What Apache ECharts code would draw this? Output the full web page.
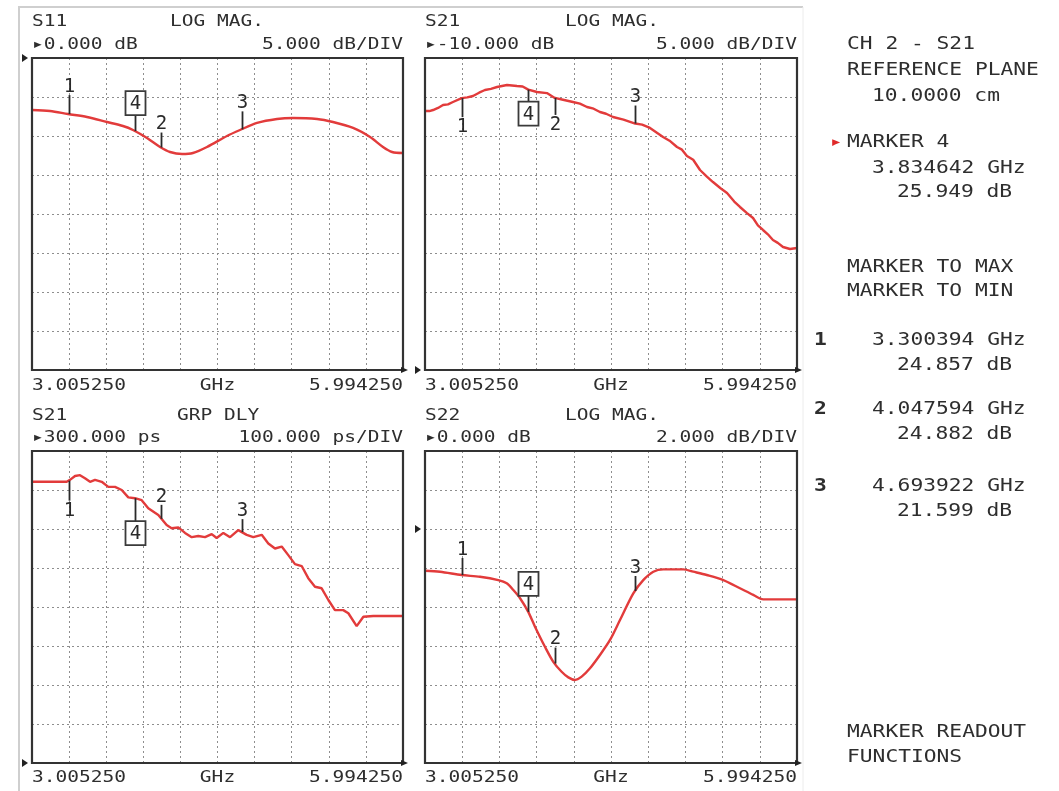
<!DOCTYPE html>
<html><head><meta charset="utf-8">
<script src="https://cdn.jsdelivr.net/npm/echarts@6/dist/echarts.min.js"></script>
<style>html,body{margin:0;padding:0;background:#fff}#c{width:1059px;height:791px}</style>
</head><body><div id="c"></div>
<script>
// ---------- DATA ----------
const freqStart = 3.00525, freqStop = 5.99425;
const freqStartLabel = '3.005250', freqStopLabel = '5.994250', freqUnit = 'GHz';

const s11Freq = [3.00525,3.150,3.295,3.448,3.610,3.738,3.819,3.932,4.037,4.117,4.214,4.302,4.415,4.576,4.681,4.818,4.979,5.108,5.302,5.430,5.592,5.729,5.833,5.906,5.99425];
const s11Val  = [-6.67,-6.79,-7.18,-7.56,-8.21,-8.72,-9.23,-10.26,-11.41,-12.05,-12.31,-12.18,-11.41,-10.0,-9.23,-8.33,-7.82,-7.69,-7.82,-8.21,-8.97,-10.13,-11.41,-12.05,-12.18];

const s21Freq = [3.00525,3.040,3.070,3.110,3.150,3.190,3.230,3.300,3.345,3.391,3.440,3.487,3.535,3.584,3.664,3.744,3.790,3.835,3.905,3.985,4.048,4.114,4.194,4.250,4.307,4.360,4.411,4.460,4.516,4.600,4.694,4.750,4.813,4.918,4.970,5.030,5.070,5.110,5.160,5.215,5.270,5.319,5.380,5.432,5.490,5.536,5.590,5.641,5.680,5.721,5.760,5.801,5.840,5.882,5.938,5.99425];
const s21Val  = [23.21,23.20,23.33,23.60,23.97,24.05,24.36,24.86,24.95,25.13,25.55,25.90,26.05,26.28,26.54,26.41,26.35,25.95,25.64,25.50,24.88,24.65,24.36,24.15,23.72,23.50,23.08,22.85,22.44,22.10,21.60,21.45,21.03,19.87,19.40,18.59,18.25,17.44,16.95,15.64,14.80,14.10,13.30,12.69,11.60,10.90,10.15,9.49,8.55,7.95,7.40,6.67,6.30,5.77,5.51,5.64];

const grpFreq = [3.00525,3.285,3.311,3.352,3.392,3.432,3.473,3.513,3.567,3.620,3.674,3.728,3.781,3.835,3.889,3.942,4.023,4.090,4.130,4.184,4.238,4.292,4.345,4.399,4.453,4.493,4.547,4.601,4.667,4.735,4.788,4.856,4.909,4.963,5.017,5.070,5.124,5.178,5.231,5.285,5.339,5.393,5.446,5.513,5.554,5.621,5.675,5.755,5.99425];
const grpVal  = [1021,1021,1026,1036,1038,1030,1021,1026,1021,1008,1008,1000,981,979,974,953,936,910,902,904,890,879,882,879,887,877,890,879,897,885,879,885,863,850,855,833,810,805,774,752,748,718,692,692,684,651,675,677,677];

const s22Freq = [3.00525,3.126,3.300,3.447,3.594,3.662,3.715,3.769,3.835,3.889,3.969,4.036,4.103,4.157,4.210,4.264,4.331,4.411,4.492,4.572,4.679,4.759,4.840,4.920,5.081,5.161,5.269,5.402,5.536,5.643,5.723,5.99425];
const s22Val  = [-2.14,-2.19,-2.36,-2.45,-2.62,-2.78,-3.13,-3.55,-4.25,-5.01,-6.04,-6.81,-7.32,-7.61,-7.74,-7.57,-7.14,-6.46,-5.69,-4.67,-3.30,-2.62,-2.19,-2.07,-2.07,-2.19,-2.36,-2.62,-3.04,-3.38,-3.61,-3.61];

const markerNames = ['1','4','2','3'];
const markerFreq  = [3.300394, 3.834642, 4.047594, 4.693922];
const s11MarkerVal = [-7.19, -9.37, -11.48, -9.15];
const s21MarkerVal = [24.857, 25.949, 24.882, 21.599];
const grpMarkerVal = [1024, 979, 926, 892];
const s22MarkerVal = [-2.36, -4.25, -6.90, -3.18];

const readoutNames = ['1','2','3'];
const readoutFreq  = [3.300394, 4.047594, 4.693922];
const readoutVal   = ['24.857','24.882','21.599'];
const activeName = '4', activeFreq = 3.834642, activeVal = '25.949';

const headers = [
  ['S11','LOG MAG.','\u25B80.000 dB','5.000 dB/DIV'],
  ['S21','LOG MAG.','\u25B8-10.000 dB','5.000 dB/DIV'],
  ['S21','GRP DLY','\u25B8300.000 ps','100.000 ps/DIV'],
  ['S22','LOG MAG.','\u25B80.000 dB','2.000 dB/DIV']
];

// ---------- LAYOUT / STYLE ----------
const H = 312;
const panels = [
  {left:32, top:58, width:371, freq:s11Freq, val:s11Val, ymin:-40, ymax:0, yint:5, mval:s11MarkerVal, smooth:0.3,
   mk:[{d:-1,l:19},{d:-1,l:16},{d:-1,l:15},{d:-1,l:18}], ref:'top', titleY:22, subY:45, botY:386, titleX2:170},
  {left:425, top:58, width:372, freq:s21Freq, val:s21Val, ymin:-10, ymax:30, yint:5, mval:s21MarkerVal, smooth:false,
   mk:[{d:1,l:19},{d:1,l:12},{d:1,l:17},{d:-1,l:18}], ref:'bottom', titleY:22, subY:45, botY:386, titleX2:565},
  {left:32, top:451, width:371, freq:grpFreq, val:grpVal, ymin:300, ymax:1100, yint:100, mval:grpMarkerVal, smooth:false,
   mk:[{d:1,l:20},{d:1,l:23},{d:-1,l:14},{d:-1,l:13}], ref:'bottom', titleY:416, subY:438, botY:778, titleX2:177},
  {left:425, top:451, width:372, freq:s22Freq, val:s22Val, ymin:-12, ymax:4, yint:2, mval:s22MarkerVal, smooth:0.3,
   mk:[{d:-1,l:17},{d:-1,l:16},{d:-1,l:16},{d:-1,l:15}], ref:'mid', titleY:416, subY:438, botY:778, titleX2:565}
];

const TXT = '#2e2e2e';
const MONO = '"DejaVu Sans Mono", "Liberation Mono", monospace';
const gridLine = {show:true, lineStyle:{color:'#8e8e8e', width:1, type:[2,3]}};

function txt(text, x, y, align, o) {
  o = o || {};
  return {type:'text', x:x, y:y, scaleX:o.sx || 1.22, z:100,
    style:{text:text, x:0, y:0, align:align, verticalAlign:'middle', textAlign:align, textVerticalAlign:'middle',
      font:o.font || ('16px ' + MONO), fill:o.fill || TXT}};
}

function markerRender(p) {
  return function(params, api) {
    const pt = api.coord([api.value(0), api.value(1)]);
    const m = p.mk[params.dataIndex];
    const name = markerNames[params.dataIndex];
    const x = Math.round(pt[0]) + 0.5;
    const y2 = pt[1] + m.d * m.l;
    const boxed = name === activeName;
    const ty = boxed ? y2 + m.d * 12 : y2 + m.d * 9;
    const ch = [{type:'line', shape:{x1:x, y1:pt[1], x2:x, y2:y2}, style:{stroke:'#2a2a2a', lineWidth:1.8}}];
    if (boxed) ch.push({type:'rect', shape:{x:x-10, y:ty-12, width:20, height:24}, style:{fill:'#fff', stroke:'#3a3a3a', lineWidth:1.8}});
    ch.push({type:'text', style:{text:name, x:x, y:ty+1, align:'center', verticalAlign:'middle', textAlign:'center', textVerticalAlign:'middle', font:'19px ' + MONO, fill:'#2a2a2a'}});
    return {type:'group', children:ch};
  };
}

const grid = [], xAxis = [], yAxis = [], series = [], graphic = [];
panels.forEach((p, i) => {
  grid.push({left:p.left, top:p.top, width:p.width, height:H, show:true, backgroundColor:'#fff', borderWidth:0});
  xAxis.push({gridIndex:i, type:'value', min:0, max:10, interval:1, axisLine:{show:false}, axisTick:{show:false}, axisLabel:{show:false}, splitLine:gridLine});
  xAxis.push({gridIndex:i, type:'value', min:freqStart, max:freqStop, show:false, splitLine:{show:false}});
  yAxis.push({gridIndex:i, type:'value', min:p.ymin, max:p.ymax, interval:p.yint, axisLine:{show:false}, axisTick:{show:false}, axisLabel:{show:false}, splitLine:gridLine});
  series.push({type:'line', xAxisIndex:2*i+1, yAxisIndex:i, data:p.freq.map((f,k)=>[f, p.val[k]]),
    showSymbol:false, smooth:p.smooth, lineStyle:{color:'#e23b3b', width:2.4}, z:3, silent:true, animation:false});
  series.push({type:'custom', xAxisIndex:2*i+1, yAxisIndex:i, data:markerFreq.map((f,k)=>[f, p.mval[k]]),
    renderItem:markerRender(p), clip:false, z:5, silent:true, animation:false});

  graphic.push({type:'rect', z:10, shape:{x:p.left, y:p.top, width:p.width, height:H}, style:{fill:'none', stroke:'#333', lineWidth:2.2}});
  let ry = p.ref === 'top' ? p.top : (p.ref === 'bottom' ? p.top + H : p.top + H/4);
  graphic.push({type:'polygon', z:10, shape:{points:[[p.left-10, ry-4],[p.left-4, ry],[p.left-10, ry+4]]}, style:{fill:'#222'}});
  graphic.push({type:'polygon', z:10, shape:{points:[[p.left+p.width-2, p.top+H-3],[p.left+p.width+5, p.top+H],[p.left+p.width-2, p.top+H+3]]}, style:{fill:'#222'}});
  const h = headers[i];
  const r = p.left + p.width;
  graphic.push(txt(h[0], p.left, p.titleY, 'left'));
  graphic.push(txt(h[1], p.titleX2, p.titleY, 'left'));
  graphic.push(txt(h[2], p.left, p.subY, 'left'));
  graphic.push(txt(h[3], r, p.subY, 'right'));
  graphic.push(txt(freqStartLabel, p.left, p.botY, 'left'));
  graphic.push(txt(freqUnit, p.left + p.width/2, p.botY, 'center'));
  graphic.push(txt(freqStopLabel, r, p.botY, 'right'));
});

graphic.push({type:'polyline', z:1, shape:{points:[[19,791],[19,7],[803,7]]}, style:{stroke:'#cfcfcf', lineWidth:2, fill:'none'}});
graphic.push({type:'line', z:1, shape:{x1:803, y1:7, x2:803, y2:791}, style:{stroke:'#ececec', lineWidth:1}});

const R = {font:'17px ' + MONO, sx:1.25};
const RB = {font:'bold 17px ' + MONO, sx:1.25};
graphic.push(txt('CH 2 - S21', 847, 45, 'left', R));
graphic.push(txt('REFERENCE PLANE', 847, 71, 'left', R));
graphic.push(txt('10.0000 cm', 872, 97, 'left', R));
graphic.push(txt('\u25B8', 830, 143, 'left', {font:'17px ' + MONO, sx:1.2, fill:'#e02a2a'}));
graphic.push(txt('MARKER ' + activeName, 847, 143, 'left', R));
graphic.push(txt(activeFreq.toFixed(6) + ' GHz', 872, 169, 'left', R));
graphic.push(txt(activeVal + ' dB', 897, 193, 'left', R));
graphic.push(txt('MARKER TO MAX', 847, 268, 'left', R));
graphic.push(txt('MARKER TO MIN', 847, 292, 'left', R));
const rowY = [341, 410, 487];
readoutNames.forEach((n, k) => {
  graphic.push(txt(n, 814, rowY[k], 'left', RB));
  graphic.push(txt(readoutFreq[k].toFixed(6) + ' GHz', 872, rowY[k], 'left', R));
  graphic.push(txt(readoutVal[k] + ' dB', 897, rowY[k] + 25, 'left', R));
});
graphic.push(txt('MARKER READOUT', 847, 733, 'left', R));
graphic.push(txt('FUNCTIONS', 847, 758, 'left', R));

const chart = echarts.init(document.getElementById('c'), null, {renderer:'canvas'});
chart.setOption({animation:false, backgroundColor:'#fff', grid, xAxis, yAxis, series, graphic});
</script></body></html>
